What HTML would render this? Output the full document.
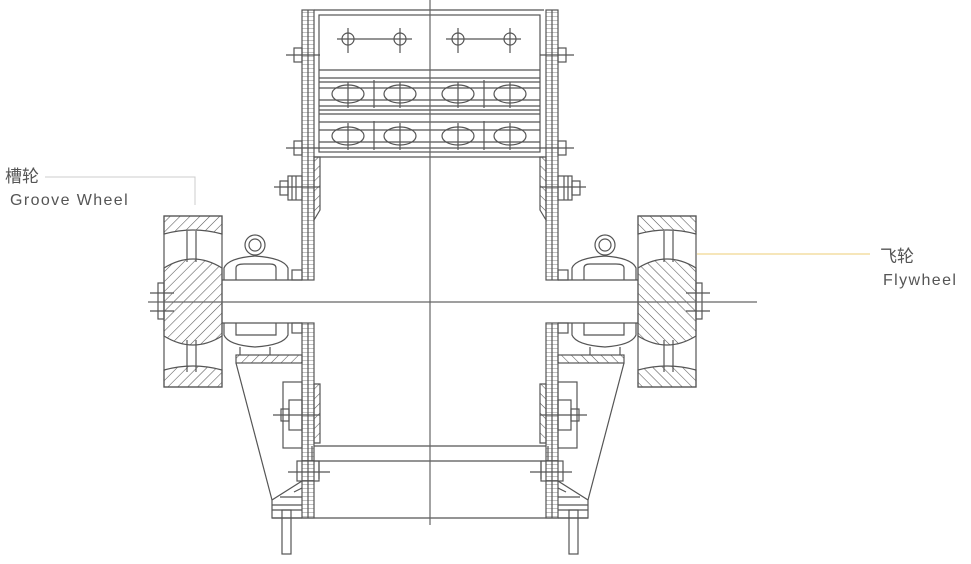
<!DOCTYPE html>
<html><head><meta charset="utf-8"><style>
html,body{margin:0;padding:0;background:#fff;width:971px;height:564px;overflow:hidden}
svg{display:block}
text{font-family:"Liberation Sans","Noto Sans CJK SC",sans-serif;fill:#555}
</style></head><body>
<svg width="971" height="564" viewBox="0 0 971 564" xmlns="http://www.w3.org/2000/svg">
<defs>
<pattern id="h" width="7" height="7" patternUnits="userSpaceOnUse" patternTransform="rotate(45)">
<line x1="0" y1="0" x2="0" y2="7" stroke="#555" stroke-width="1.1"/></pattern>
<pattern id="lad" width="12" height="4" patternUnits="userSpaceOnUse">
<line x1="0" y1="0" x2="12" y2="0" stroke="#666" stroke-width="0.8"/></pattern>
<g id="half" fill="none" stroke="#555" stroke-width="1.2">
<rect x="302" y="10" width="12" height="270" fill="url(#lad)"/>
<line x1="308" y1="10" x2="308" y2="280"/>
<rect x="302" y="323" width="12" height="195" fill="url(#lad)"/>
<line x1="308" y1="323" x2="308" y2="518"/>
<rect x="294" y="48" width="8" height="14"/><line x1="286" y1="55" x2="320" y2="55"/>
<rect x="294" y="141" width="8" height="14"/><line x1="286" y1="148" x2="320" y2="148"/>
<path d="M314 157 L320 157 L320 210 L314 220 Z" fill="url(#h)"/>
<rect x="288" y="176" width="14" height="24"/><line x1="292" y1="176" x2="292" y2="200"/><line x1="296" y1="176" x2="296" y2="200"/>
<rect x="280" y="181" width="8" height="14"/><line x1="274" y1="187" x2="320" y2="187"/>
<rect x="164" y="216" width="58" height="171"/>
<path d="M164 216 L222 216 L222 234 Q193 226 164 234 Z" fill="url(#h)"/>
<path d="M164 268 Q193 250 222 268 L222 336 Q193 354 164 336 Z" fill="url(#h)"/>
<path d="M164 387 L222 387 L222 370 Q193 362 164 370 Z" fill="url(#h)"/>
<line x1="187" y1="231" x2="187" y2="262"/><line x1="196" y1="231" x2="196" y2="262"/>
<line x1="187" y1="340" x2="187" y2="372"/><line x1="196" y1="340" x2="196" y2="372"/>
<rect x="158" y="283" width="6" height="36"/>
<line x1="150" y1="293" x2="174" y2="293"/><line x1="150" y1="311" x2="174" y2="311"/>
<line x1="222" y1="280" x2="302" y2="280"/>
<line x1="222" y1="323" x2="302" y2="323"/>
<circle cx="255" cy="245" r="10"/><circle cx="255" cy="245" r="6"/>
<path d="M224 280 L224 268 Q228 258 255 256 Q284 258 288 268 L288 280"/>
<path d="M236 280 L236 268 Q236 264 244 264 L270 264 Q276 264 276 268 L276 280"/>
<rect x="292" y="270" width="10" height="10"/>
<path d="M224 323 L224 335 Q228 345 255 347 Q284 345 288 335 L288 323"/>
<path d="M236 323 L236 335 L276 335 L276 323"/>
<rect x="292" y="323" width="10" height="10"/>
<line x1="240" y1="347" x2="240" y2="355"/><line x1="270" y1="347" x2="270" y2="355"/>
<rect x="236" y="355" width="66" height="8" fill="url(#h)"/>
<line x1="236" y1="363" x2="272" y2="500"/>
<rect x="283" y="382" width="19" height="66"/>
<path d="M314 384 L320 384 L320 443 L314 443 Z" fill="url(#h)"/>
<rect x="289" y="400" width="13" height="30"/>
<rect x="281" y="409" width="8" height="12"/><line x1="273" y1="415" x2="320" y2="415"/>
<path d="M314 446 L430 446 M314 461 L430 461 M312 446 L312 461"/>
<rect x="297" y="461" width="22" height="20"/><line x1="319" y1="461" x2="319" y2="479"/>
<line x1="288" y1="472" x2="330" y2="472"/>
<path d="M302 481 L272 500 L272 518 L302 518"/>
<path d="M272 505 L302 505 M280 497 L302 497 M294 492 L302 488"/>
<line x1="272" y1="518" x2="430" y2="518"/>
<rect x="282" y="510" width="9" height="44"/>
<line x1="272" y1="510" x2="302" y2="510"/>
</g>
</defs>

<use href="#half"/>
<use href="#half" transform="translate(860,0) scale(-1,1)"/>

<g fill="none" stroke="#555" stroke-width="1.2">
<rect x="319" y="15" width="221" height="137"/>
<line x1="314" y1="10" x2="544" y2="10"/>
<line x1="319" y1="70" x2="540" y2="70"/>
<line x1="319" y1="78" x2="540" y2="78"/>
<line x1="319" y1="82" x2="540" y2="82"/>
<line x1="319" y1="88" x2="540" y2="88"/>
<line x1="319" y1="100" x2="540" y2="100"/>
<line x1="319" y1="106" x2="540" y2="106"/>
<line x1="319" y1="110" x2="540" y2="110"/>
<line x1="319" y1="114" x2="540" y2="114"/>
<line x1="319" y1="122" x2="540" y2="122"/>
<line x1="319" y1="130" x2="540" y2="130"/>
<line x1="319" y1="142" x2="540" y2="142"/>
<line x1="319" y1="148" x2="540" y2="148"/>
<line x1="314" y1="157" x2="544" y2="157"/>
<line x1="374" y1="80" x2="374" y2="108"/><line x1="484" y1="80" x2="484" y2="108"/>
<line x1="374" y1="121" x2="374" y2="150"/><line x1="484" y1="121" x2="484" y2="150"/>
<line x1="337" y1="39" x2="412" y2="39"/><line x1="446" y1="39" x2="521" y2="39"/>
<circle cx="348" cy="39" r="6"/><line x1="348" y1="28" x2="348" y2="53"/>
<circle cx="400" cy="39" r="6"/><line x1="400" y1="28" x2="400" y2="53"/>
<circle cx="458" cy="39" r="6"/><line x1="458" y1="28" x2="458" y2="53"/>
<circle cx="510" cy="39" r="6"/><line x1="510" y1="28" x2="510" y2="53"/>
<ellipse cx="348" cy="94" rx="16" ry="9"/><line x1="348" y1="82" x2="348" y2="108"/>
<ellipse cx="400" cy="94" rx="16" ry="9"/><line x1="400" y1="82" x2="400" y2="108"/>
<ellipse cx="458" cy="94" rx="16" ry="9"/><line x1="458" y1="82" x2="458" y2="108"/>
<ellipse cx="510" cy="94" rx="16" ry="9"/><line x1="510" y1="82" x2="510" y2="108"/>
<ellipse cx="348" cy="136" rx="16" ry="9"/><line x1="348" y1="123" x2="348" y2="150"/>
<ellipse cx="400" cy="136" rx="16" ry="9"/><line x1="400" y1="123" x2="400" y2="150"/>
<ellipse cx="458" cy="136" rx="16" ry="9"/><line x1="458" y1="123" x2="458" y2="150"/>
<ellipse cx="510" cy="136" rx="16" ry="9"/><line x1="510" y1="123" x2="510" y2="150"/>
<line x1="430" y1="0" x2="430" y2="525" stroke="#666"/>
<line x1="148" y1="302" x2="757" y2="302" stroke="#666"/>
</g>

<path d="M45 177 L195 177 L195 205" fill="none" stroke="#ccc" stroke-width="1"/>
<line x1="697" y1="254" x2="870" y2="254" stroke="#f0d890" stroke-width="1.2"/>
<text x="5" y="182" font-size="17">槽轮</text>
<text x="10" y="205" font-size="16" letter-spacing="1.4">Groove Wheel</text>
<text x="880" y="262" font-size="17">飞轮</text>
<text x="883" y="285" font-size="16" letter-spacing="1.4">Flywheel</text>
</svg>
</body></html>
